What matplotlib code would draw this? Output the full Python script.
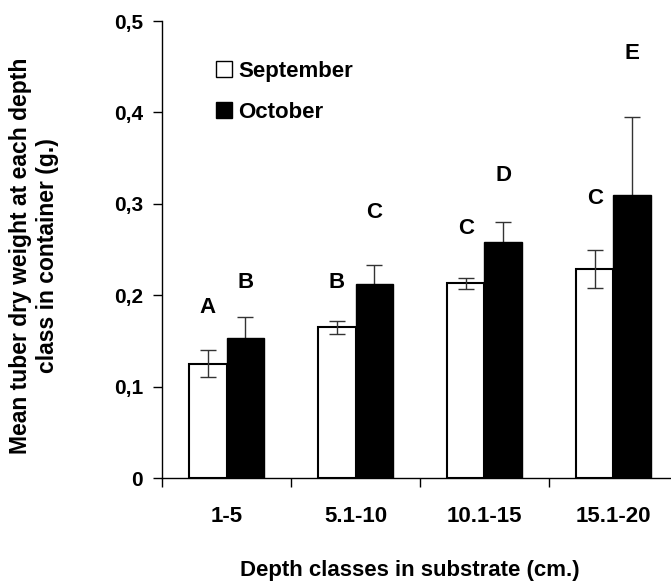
import matplotlib.pyplot as plt
import numpy as np
from matplotlib.patches import Patch

categories = ["1-5", "5.1-10", "10.1-15", "15.1-20"]
september = [0.125, 0.165, 0.213, 0.229]
september_err = [0.015, 0.007, 0.006, 0.021]
october = [0.153, 0.212, 0.258, 0.310]
october_err = [0.023, 0.021, 0.022, 0.085]
sep_letters = ["A", "B", "C", "C"]
sep_letter_y = [0.186, 0.214, 0.2735, 0.306]
oct_letters = ["B", "C", "D", "E"]
oct_letter_y = [0.214, 0.291, 0.3315, 0.464]

plt.rcParams['font.family'] = ['Liberation Sans', 'DejaVu Sans']
plt.rcParams['font.weight'] = 'bold'

fig = plt.figure(figsize=(6.71, 5.85), dpi=100)
ax = fig.add_axes([162 / 671, 107 / 585, 516 / 671, 457 / 585])

x = np.arange(len(categories))
w = 0.29
ax.bar(x - w / 2, september, w, color='white', edgecolor='black', linewidth=1.5, zorder=2)
ax.bar(x + w / 2, october, w, color='black', edgecolor='black', linewidth=1.0, zorder=2)
ax.errorbar(x - w / 2, september, yerr=september_err, fmt='none', ecolor='#333333',
            elinewidth=1, capsize=6, capthick=1, zorder=3)
ax.errorbar(x + w / 2, october, yerr=october_err, fmt='none', ecolor='#333333',
            elinewidth=1, capsize=6, capthick=1, zorder=1)

for i in range(len(categories)):
    ax.text(x[i] - w / 2, sep_letter_y[i], sep_letters[i], ha='center', va='center',
            fontsize=16, fontweight='bold')
    ax.text(x[i] + w / 2, oct_letter_y[i], oct_letters[i], ha='center', va='center',
            fontsize=16, fontweight='bold')

ax.set_xlim(-0.5, len(categories) - 0.5)
ax.set_ylim(0, 0.5)
ax.set_yticks([0, 0.1, 0.2, 0.3, 0.4, 0.5])
ax.set_yticklabels(["0", "0,1", "0,2", "0,3", "0,4", "0,5"], fontsize=15, fontweight='bold')
ax.set_xticks(x)
ax.set_xticklabels(categories, fontsize=16, fontweight='bold')
ax.set_xticks(np.arange(-0.5, len(categories), 1), minor=True)
ax.tick_params(axis='x', which='major', length=0, pad=20)
ax.tick_params(axis='x', which='minor', length=6.5, width=1, direction='out')
ax.tick_params(axis='y', length=6.5, width=1, direction='out', pad=7)

for s in ['top', 'right']:
    ax.spines[s].set_visible(False)
ax.spines['left'].set_linewidth(1)
ax.spines['bottom'].set_linewidth(1)

fig.text(34 / 671, 1 - 256 / 585, "Mean tuber dry weight at each depth\nclass in container (g.)",
         rotation=90, ha='center', va='center', fontsize=16.5, fontweight='bold',
         multialignment='center')
ax.set_xlabel("Depth classes in substrate (cm.)", fontsize=16, fontweight='bold')
ax.xaxis.set_label_coords((410 - 162) / 516, -0.18)

handles = [Patch(facecolor='white', edgecolor='black', linewidth=1),
           Patch(facecolor='black', edgecolor='black')]
ax.legend(handles, ["September", "October"], loc='upper left',
          bbox_to_anchor=(216 / 671, 1 - 61 / 585), bbox_transform=fig.transFigure,
          frameon=False, prop={'size': 16, 'weight': 'bold'}, borderpad=0, borderaxespad=0,
          handlelength=0.7, handleheight=0.7, handletextpad=0.3, labelspacing=0.88)

fig.savefig("out.png", dpi=100)
